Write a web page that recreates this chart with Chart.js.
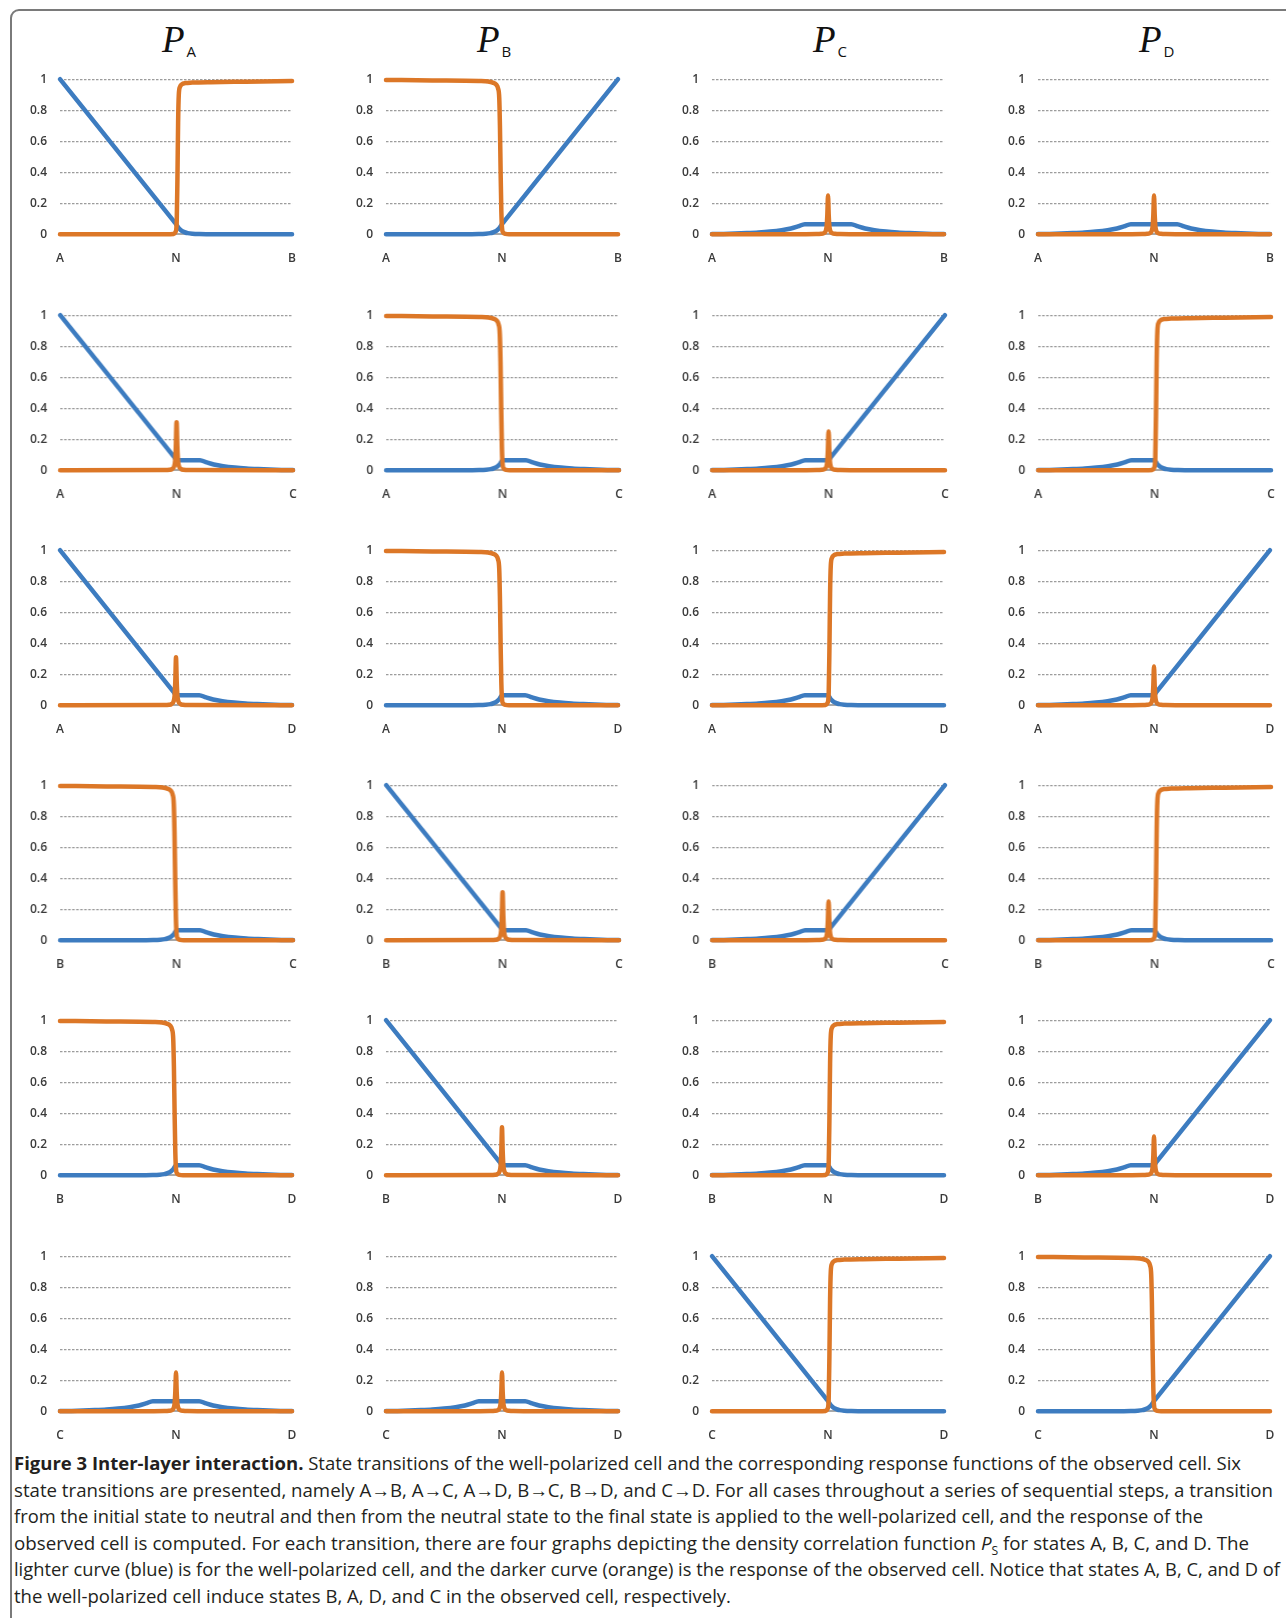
<!DOCTYPE html>
<html>
<head>
<meta charset="utf-8">
<script src="https://cdn.jsdelivr.net/npm/chart.js@4.4.0/dist/chart.umd.min.js"></script>
<style>
  body { margin: 0; background: #fff; width: 1286px; height: 1618px; position: relative; overflow: hidden; font-family: 'Open Sans', sans-serif; }
  #frame { position: absolute; left: 10px; top: 9px; width: 1400px; height: 1700px; border: 2px solid #7a7a7a; border-radius: 9px; }
  .panel { position: absolute; }
  .title { position: absolute; top: 20px; white-space: nowrap; color: #111; line-height: 40px; }
  .title .p { font-family: 'Liberation Serif', serif; font-style: italic; font-size: 37px; }
  .title .s { font-family: 'Open Sans', sans-serif; font-size: 15px; position: relative; top: 5px; margin-left: 2px; }
  #caption { position: absolute; left: 14px; top: 1450px; font-size: 18.5px; line-height: 26.6px; color: #231f20; }
  #caption div { white-space: nowrap; transform-origin: 0 0; width: max-content; height: 26.6px; }
  #caption b { font-weight: 700; }
  #caption .sub { font-size: 12px; position: relative; top: 5px; line-height: 0; }
</style>
</head>
<body>
<div id="frame"></div>
<div id="charts"></div>
<div id="caption">
  <div><b>Figure 3 Inter-layer interaction.</b> State transitions of the well-polarized cell and the corresponding response functions of the observed cell. Six</div>
  <div>state transitions are presented, namely A→B, A→C, A→D, B→C, B→D, and C→D. For all cases throughout a series of sequential steps, a transition</div>
  <div>from the initial state to neutral and then from the neutral state to the final state is applied to the well-polarized cell, and the response of the</div>
  <div>observed cell is computed. For each transition, there are four graphs depicting the density correlation function <i>P</i><span class="sub">S</span> for states A, B, C, and D. The</div>
  <div>lighter curve (blue) is for the well-polarized cell, and the darker curve (orange) is the response of the observed cell. Notice that states A, B, C, and D of</div>
  <div>the well-polarized cell induce states B, A, D, and C in the observed cell, respectively.</div>
</div>
<script>
// column = state whose density correlation P_S is plotted, row = transition
const columnStates = ['A', 'B', 'C', 'D'];
const transitions = [['A', 'B'], ['A', 'C'], ['A', 'D'], ['B', 'C'], ['B', 'D'], ['C', 'D']];
const yTickValues = [0, 0.2, 0.4, 0.6, 0.8, 1];
const yTickLabels = ['0', '0.2', '0.4', '0.6', '0.8', '1'];
const xTickValues = [0, 50, 100]; // start, neutral (N), end

// well-polarized cell (blue), [step, P]
const fallToZero = [[0, 1], [49, 0.084], [50, 0.065], [51, 0.042], [52, 0.027], [53, 0.017], [54, 0.011], [55, 0.007], [57, 0.003], [60, 0.0005], [63, 0], [100, 0]];
const riseFromZero = [[0, 0], [37, 0], [40, 0.0005], [43, 0.003], [45, 0.007], [46, 0.011], [47, 0.017], [48, 0.027], [49, 0.042], [50, 0.065], [51, 0.084], [100, 1]];
const bump = [[0, 0.001], [5, 0.002], [10, 0.004], [15, 0.007], [20, 0.011], [25, 0.017], [30, 0.026], [34, 0.037], [37, 0.05], [40, 0.065], [60, 0.065], [63, 0.05], [66, 0.037], [70, 0.026], [75, 0.017], [80, 0.011], [85, 0.007], [90, 0.004], [95, 0.002], [100, 0.001]];
const fallPlateau = [[0, 1], [49, 0.084], [50, 0.065], [60, 0.065], [63, 0.05], [66, 0.037], [70, 0.026], [75, 0.017], [80, 0.011], [85, 0.007], [90, 0.004], [95, 0.002], [100, 0.001]];
const zeroPlateau = [[0, 0], [37, 0], [40, 0.0005], [43, 0.003], [45, 0.007], [46, 0.011], [47, 0.017], [48, 0.027], [49, 0.042], [50, 0.065], [60, 0.065], [63, 0.05], [66, 0.037], [70, 0.026], [75, 0.017], [80, 0.011], [85, 0.007], [90, 0.004], [95, 0.002], [100, 0.001]];
const plateauRise = [[0, 0.001], [5, 0.002], [10, 0.004], [15, 0.007], [20, 0.011], [25, 0.017], [30, 0.026], [34, 0.037], [37, 0.05], [40, 0.065], [50, 0.065], [51, 0.084], [100, 1]];
const plateauZero = [[0, 0.001], [5, 0.002], [10, 0.004], [15, 0.007], [20, 0.011], [25, 0.017], [30, 0.026], [34, 0.037], [37, 0.05], [40, 0.065], [50, 0.065], [51, 0.042], [52, 0.027], [53, 0.017], [54, 0.011], [55, 0.007], [57, 0.003], [60, 0.0005], [63, 0], [100, 0]];

// observed cell response (orange)
const stepUp = [[0, 0], [46, 0], [49, 0.002], [49.8, 0.015], [50.3, 0.08], [50.6, 0.35], [50.9, 0.72], [51.2, 0.9], [51.7, 0.95], [52.5, 0.967], [54, 0.975], [57, 0.978], [65, 0.981], [80, 0.984], [100, 0.988]];
const stepDown = [[0, 0.995], [20, 0.992], [40, 0.988], [44, 0.985], [46, 0.978], [47.5, 0.965], [48.3, 0.94], [48.8, 0.88], [49.1, 0.7], [49.4, 0.4], [49.7, 0.15], [50, 0.04], [50.5, 0.01], [51.5, 0.002], [53, 0], [100, 0]];
const spike25 = [[0, 0], [40, 0.0004], [45, 0.0009], [47, 0.0025], [48, 0.0055], [49, 0.021], [49.4, 0.05], [49.7, 0.125], [50, 0.25], [50.3, 0.125], [50.6, 0.05], [51, 0.021], [52, 0.0055], [53, 0.0025], [55, 0.0009], [60, 0.0004], [100, 0]];
const spike31 = [[0, 0], [45, 0.001], [47, 0.003], [48, 0.007], [49, 0.026], [49.4, 0.062], [49.7, 0.155], [50, 0.31], [50.3, 0.155], [50.6, 0.062], [51, 0.026], [52, 0.007], [53, 0.003], [55, 0.001], [100, 0]];

const curves = { fallToZero, riseFromZero, bump, fallPlateau, zeroPlateau, plateauRise, plateauZero, stepUp, stepDown, spike25, spike31 };

const bluePick = [
  ['fallToZero', 'riseFromZero', 'bump', 'bump'],
  ['fallPlateau', 'zeroPlateau', 'plateauRise', 'plateauZero'],
  ['fallPlateau', 'zeroPlateau', 'plateauZero', 'plateauRise'],
  ['zeroPlateau', 'fallPlateau', 'plateauRise', 'plateauZero'],
  ['zeroPlateau', 'fallPlateau', 'plateauZero', 'plateauRise'],
  ['bump', 'bump', 'fallToZero', 'riseFromZero']
];
const orangePick = [
  ['stepUp', 'stepDown', 'spike25', 'spike25'],
  ['spike31', 'stepDown', 'spike25', 'stepUp'],
  ['spike31', 'stepDown', 'stepUp', 'spike25'],
  ['stepDown', 'spike31', 'spike25', 'stepUp'],
  ['stepDown', 'spike31', 'stepUp', 'spike25'],
  ['spike25', 'spike25', 'stepUp', 'stepDown']
];

const BLUE = '#3d7cc0';
const ORANGE = '#dc7727';
const colLeft = [60, 386, 712, 1038];
const rowTop = [79, 315, 550, 785, 1020, 1256];
const titleLeft = [162, 477, 813, 1139];
const plotW = 232, plotH = 155;

Chart.defaults.font.family = "'Open Sans', sans-serif";
Chart.defaults.color = '#3a3a3a';

const holder = document.getElementById('charts');

columnStates.forEach((s, c) => {
  const t = document.createElement('div');
  t.className = 'title';
  t.style.left = titleLeft[c] + 'px';
  t.innerHTML = `<span class="p">P</span><span class="s">${s}</span>`;
  holder.appendChild(t);
});

const toPoints = arr => arr.map(p => ({ x: p[0], y: p[1] }));

transitions.forEach((tr, r) => {
  columnStates.forEach((s, c) => {
    const box = document.createElement('div');
    box.className = 'panel';
    const cv = document.createElement('canvas');
    cv.width = 300;
    cv.height = 200;
    box.appendChild(cv);
    holder.appendChild(box);

    const xLabels = [tr[0], 'N', tr[1]];

    const chart = new Chart(cv, {
      type: 'line',
      data: {
        datasets: [
          { data: toPoints(curves[orangePick[r][c]]), borderColor: ORANGE, order: 0 },
          { data: toPoints(curves[bluePick[r][c]]), borderColor: BLUE, order: 1 }
        ]
      },
      options: {
        responsive: false,
        maintainAspectRatio: false,
        animation: false,
        layout: { padding: { top: 10, right: 8, left: 0, bottom: 0 } },
        elements: {
          point: { radius: 0 },
          line: { borderWidth: 4.5, cubicInterpolationMode: 'monotone', borderCapStyle: 'round', borderJoinStyle: 'round' }
        },
        datasets: { line: { clip: false } },
        plugins: { legend: { display: false }, tooltip: { enabled: false } },
        scales: {
          x: {
            type: 'linear',
            min: 0,
            max: 100,
            afterBuildTicks: sc => { sc.ticks = xTickValues.map(v => ({ value: v })); },
            afterFit: sc => { sc.height = 34; },
            grid: { display: true, drawOnChartArea: false, drawTicks: false },
            border: { display: true, color: '#a8a8a8', width: 2 },
            ticks: {
              autoSkip: false,
              maxRotation: 0,
              padding: 17,
              font: { size: 12, weight: '600' },
              callback: (v, i) => xLabels[i]
            }
          },
          y: {
            min: 0,
            max: 1,
            afterBuildTicks: sc => { sc.ticks = yTickValues.map(v => ({ value: v })); },
            afterFit: sc => { sc.width = 60; },
            grid: {
              drawTicks: false,
              lineWidth: 1.2,
              color: ctx => (ctx.tick && ctx.tick.value === 0) ? 'rgba(0,0,0,0)' : '#9c9c9c'
            },
            border: { display: false, dash: [2.5, 1.5] },
            ticks: {
              padding: 13,
              font: { size: 12, weight: '600' },
              callback: (v, i) => yTickLabels[i]
            }
          }
        }
      }
    });

    // size the canvas so the plot area matches the figure, then place it
    const a = chart.chartArea;
    chart.resize(300 + plotW - (a.right - a.left), 200 + plotH - (a.bottom - a.top));
    const b = chart.chartArea;
    box.style.left = (colLeft[c] - b.left) + 'px';
    box.style.top = (rowTop[r] - b.top) + 'px';
  });
});

// fit each caption line to the width it has in the printed figure
const captionRight = [1241, 1273, 1203, 1249, 1280, 731];
document.fonts.ready.then(() => {
  document.querySelectorAll('#caption div').forEach((el, i) => {
    const w = el.getBoundingClientRect().width;
    el.style.transform = `scaleX(${(captionRight[i] - 14) / w})`;
  });
});
</script>
</body>
</html>
